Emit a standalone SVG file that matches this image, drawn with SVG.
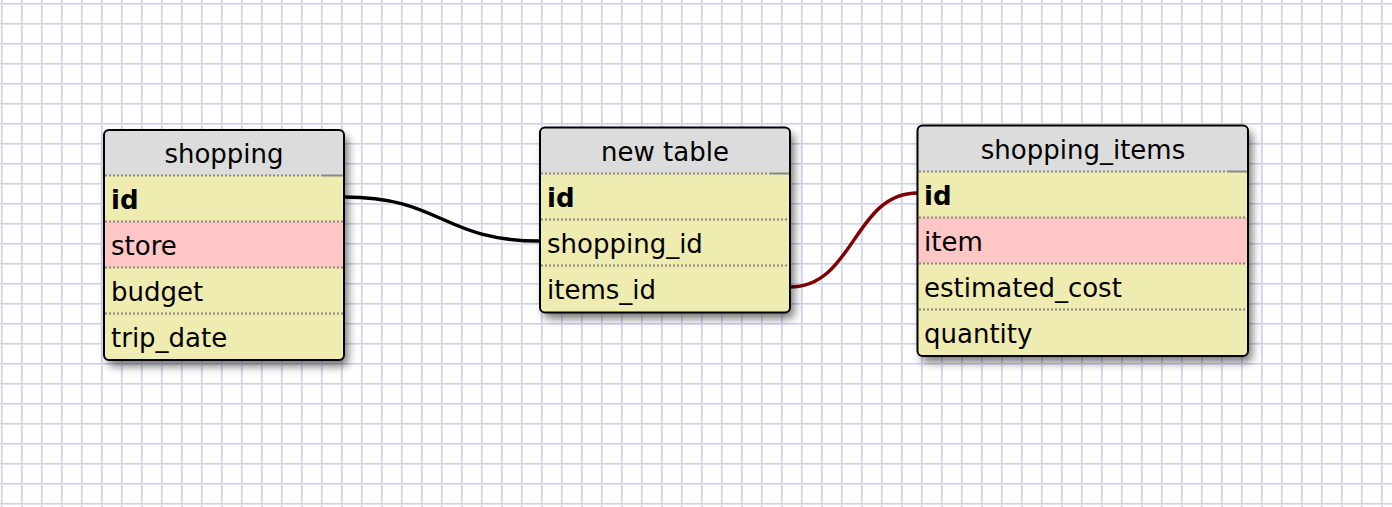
<svg xmlns="http://www.w3.org/2000/svg" width="1392" height="507" viewBox="0 0 1392 507">
<style>
.hdr{fill:#dcdcdc}
.base{fill:#eeecb0}
.pink{fill:#ffc6c6}
.border{fill:none;stroke:#000;stroke-width:2}
.sep{stroke:#888;stroke-width:2;stroke-dasharray:2 2}
.solid{stroke:#888;stroke-width:2}
.t{font-family:"DejaVu Sans",Verdana,sans-serif;font-size:26px;fill:#000}
.b{font-weight:bold}
.c{text-anchor:middle}
.link{fill:none;stroke-width:3.5}
</style>
<defs>
<pattern id="grid" width="20" height="20" patternUnits="userSpaceOnUse">
<rect width="20" height="20" fill="#fff"/>
<rect x="1" y="0" width="1" height="20" fill="#d0d0ee"/>
<rect x="2" y="0" width="1" height="20" fill="#e2e2f6"/>
<rect x="0" y="3" width="20" height="1" fill="#d0d0ee"/>
<rect x="0" y="4" width="20" height="1" fill="#e2e2f6"/>
</pattern>
<filter id="sh" x="-10%" y="-10%" width="130%" height="130%">
<feDropShadow dx="4" dy="6" stdDeviation="5" flood-color="#000" flood-opacity="0.55"/>
</filter>
</defs>
<rect width="1392" height="507" fill="url(#grid)"/>

<g id="connectors">
<path class="link" stroke="#000" d="M344,197 C442,197 442,241 540,241"/>
<path class="link" stroke="#800000" d="M790,287 C854,287 854,193 917.5,193"/>
</g>

<g id="shopping">
<rect class="base" x="104" y="130" width="240" height="230" rx="5" filter="url(#sh)"/>
<path class="hdr" d="M104,175.5 V135 A5,5 0 0 1 109,130 H339 A5,5 0 0 1 344,135 V175.5 Z"/>
<rect class="pink" x="104" y="221.5" width="240" height="46"/>
<line class="sep" x1="105" y1="175.5" x2="322" y2="175.5"/>
<line class="solid" x1="322" y1="175.5" x2="343" y2="175.5"/>
<line class="sep" x1="105" y1="221.5" x2="343" y2="221.5"/>
<line class="sep" x1="105" y1="267.5" x2="343" y2="267.5"/>
<line class="sep" x1="105" y1="313.5" x2="343" y2="313.5"/>
<rect class="border" x="104" y="130" width="240" height="230" rx="5"/>
<text class="t c" x="224" y="163">shopping</text>
<text class="t b" x="111" y="209">id</text>
<text class="t" x="111" y="255">store</text>
<text class="t" x="111" y="301">budget</text>
<text class="t" x="111" y="347">trip_date</text>
</g>

<g id="new_table">
<rect class="base" x="540" y="127.5" width="250" height="185" rx="5" filter="url(#sh)"/>
<path class="hdr" d="M540,173.5 V132.5 A5,5 0 0 1 545,127.5 H785 A5,5 0 0 1 790,132.5 V173.5 Z"/>
<line class="sep" x1="541" y1="173.5" x2="769" y2="173.5"/>
<line class="solid" x1="769" y1="173.5" x2="789" y2="173.5"/>
<line class="sep" x1="541" y1="219.5" x2="789" y2="219.5"/>
<line class="sep" x1="541" y1="265.5" x2="789" y2="265.5"/>
<rect class="border" x="540" y="127.5" width="250" height="185" rx="5"/>
<text class="t c" x="665" y="161">new table</text>
<text class="t b" x="547" y="207">id</text>
<text class="t" x="547" y="253">shopping_id</text>
<text class="t" x="547" y="299">items_id</text>
</g>

<g id="shopping_items">
<rect class="base" x="917.5" y="125.5" width="330.5" height="230.5" rx="5" filter="url(#sh)"/>
<path class="hdr" d="M917.5,171.5 V130.5 A5,5 0 0 1 922.5,125.5 H1243 A5,5 0 0 1 1248,130.5 V171.5 Z"/>
<rect class="pink" x="917.5" y="217.5" width="330.5" height="46"/>
<line class="sep" x1="919" y1="171.5" x2="1227" y2="171.5"/>
<line class="solid" x1="1227" y1="171.5" x2="1247" y2="171.5"/>
<line class="sep" x1="919" y1="217.5" x2="1247" y2="217.5"/>
<line class="sep" x1="919" y1="263.5" x2="1247" y2="263.5"/>
<line class="sep" x1="919" y1="309.5" x2="1247" y2="309.5"/>
<rect class="border" x="917.5" y="125.5" width="330.5" height="230.5" rx="5"/>
<text class="t c" x="1083" y="159">shopping_items</text>
<text class="t b" x="924" y="205">id</text>
<text class="t" x="924" y="251">item</text>
<text class="t" x="924" y="297">estimated_cost</text>
<text class="t" x="924" y="343">quantity</text>
</g>
</svg>
